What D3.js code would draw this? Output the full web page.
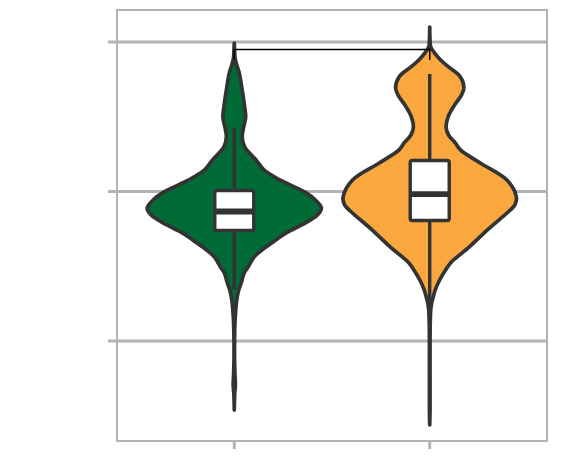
<!DOCTYPE html>
<html>
<head>
<meta charset="utf-8">
<script src="https://cdn.jsdelivr.net/npm/d3@7"></script>
<style>
  html, body { margin: 0; padding: 0; background: #ffffff; }
  svg { display: block; }
</style>
</head>
<body>
<svg id="chart" width="568" height="456"></svg>
<script>
// ---------------- data ----------------
const categories = ["A", "B"];
const fillColors = ["#006b36", "#fba73f"];
const yTicks = [0, 1, 2];

// violin density profiles: value along y, relative half-width
const violinAValues = [1.993, 1.946, 1.893, 1.846, 1.793, 1.679, 1.565, 1.498, 1.431, 1.365, 1.298, 1.211, 1.144, 1.077, 0.997, 0.943, 0.890, 0.843, 0.776, 0.722, 0.676, 0.609, 0.562, 0.495, 0.455, 0.388, 0.341, 0.274, 0.207, 0.140, 0.007, -0.127, -0.227, -0.294, -0.348, -0.395, -0.462];
const violinADensity = [0, 0.003, 0.008, 0.025, 0.05, 0.08, 0.105, 0.115, 0.095, 0.08, 0.105, 0.22, 0.30, 0.46, 0.71, 0.82, 0.88, 0.84, 0.68, 0.52, 0.42, 0.28, 0.20, 0.14, 0.10, 0.07, 0.045, 0.025, 0.015, 0.008, 0.003, 0.003, 0.007, 0.011, 0.005, 0.002, 0];

const violinBValues = [2.100, 2.013, 1.967, 1.926, 1.880, 1.833, 1.766, 1.692, 1.645, 1.592, 1.545, 1.498, 1.431, 1.378, 1.324, 1.278, 1.191, 1.077, 0.963, 0.910, 0.856, 0.742, 0.629, 0.522, 0.475, 0.408, 0.341, 0.294, 0.254, 0.207, 0.074, -0.127, -0.328, -0.462, -0.562];
const violinBDensity = [0, 0.003, 0.01, 0.05, 0.11, 0.19, 0.31, 0.345, 0.32, 0.265, 0.22, 0.185, 0.165, 0.19, 0.26, 0.31, 0.51, 0.78, 0.875, 0.86, 0.78, 0.58, 0.40, 0.21, 0.16, 0.10, 0.055, 0.035, 0.02, 0.01, 0.004, 0.003, 0.003, 0.003, 0];

// box plot stats: [lower whisker, q1, median, q3, upper whisker]
const boxA = [0.341, 0.739, 0.866, 1.007, 1.425];
const boxB = [0.241, 0.806, 0.983, 1.207, 1.786];

// comparison bracket
const bracketValue = 1.95;
const bracketTip = 0.07;

// ---------------- layout ----------------
const panel = { left: 117, right: 547, top: 10, bottom: 441 };
const svg = d3.select("#chart");

const x = d3.scalePoint().domain(categories).range([panel.left, panel.right]).padding(0.6);
const y = d3.scaleLinear().domain([-0.669, 2.214]).range([panel.bottom, panel.top]);
const w = d3.scaleLinear().domain([0, 1]).range([0, 99]);

const gridColor = "#b3b3b3";
const inkColor = "#333333";

// gridlines + left ticks
svg.append("g").selectAll("line").data(yTicks).join("line")
  .attr("x1", panel.left - 9).attr("x2", panel.right)
  .attr("y1", d => y(d)).attr("y2", d => y(d))
  .attr("stroke", gridColor).attr("stroke-width", 3);

// bottom ticks
svg.append("g").selectAll("line").data(categories).join("line")
  .attr("x1", d => x(d)).attr("x2", d => x(d))
  .attr("y1", panel.bottom).attr("y2", panel.bottom + 8)
  .attr("stroke", gridColor).attr("stroke-width", 3);

// panel border
svg.append("rect")
  .attr("x", panel.left).attr("y", panel.top)
  .attr("width", panel.right - panel.left).attr("height", panel.bottom - panel.top)
  .attr("fill", "none").attr("stroke", gridColor).attr("stroke-width", 2);

const violins = [
  { cat: categories[0], values: violinAValues, dens: violinADensity, box: boxA, fill: fillColors[0] },
  { cat: categories[1], values: violinBValues, dens: violinBDensity, box: boxB, fill: fillColors[1] }
];

const boxWidth = 39;

violins.forEach(v => {
  const cx = x(v.cat);
  const pts = v.values.map((val, i) => ({ val, d: v.dens[i] }));
  const area = d3.area()
    .y(p => y(p.val))
    .x0(p => cx - w(p.d))
    .x1(p => cx + w(p.d))
    .curve(d3.curveCatmullRom.alpha(0.5));
  svg.append("path")
    .attr("d", area(pts))
    .attr("fill", v.fill)
    .attr("stroke", inkColor)
    .attr("stroke-width", 3.7)
    .attr("stroke-linejoin", "round");

  const [lo, q1, med, q3, hi] = v.box;
  svg.append("line")
    .attr("x1", cx).attr("x2", cx)
    .attr("y1", y(hi)).attr("y2", y(lo))
    .attr("stroke", inkColor).attr("stroke-width", 3.4);
  svg.append("rect")
    .attr("x", cx - boxWidth / 2).attr("width", boxWidth)
    .attr("y", y(q3)).attr("height", y(q1) - y(q3))
    .attr("rx", 2)
    .attr("fill", "#ffffff").attr("stroke", inkColor).attr("stroke-width", 3.4);
  svg.append("line")
    .attr("x1", cx - boxWidth / 2).attr("x2", cx + boxWidth / 2)
    .attr("y1", y(med)).attr("y2", y(med))
    .attr("stroke", inkColor).attr("stroke-width", 5.8);
});

// bracket
const bx1 = x(categories[0]), bx2 = x(categories[1]);
svg.append("path")
  .attr("d", d3.line()([
    [bx1, y(bracketValue - bracketTip)],
    [bx1, y(bracketValue)],
    [bx2, y(bracketValue)],
    [bx2, y(bracketValue - bracketTip)]
  ]))
  .attr("fill", "none").attr("stroke", "#000000").attr("stroke-width", 1.5);
</script>
</body>
</html>
